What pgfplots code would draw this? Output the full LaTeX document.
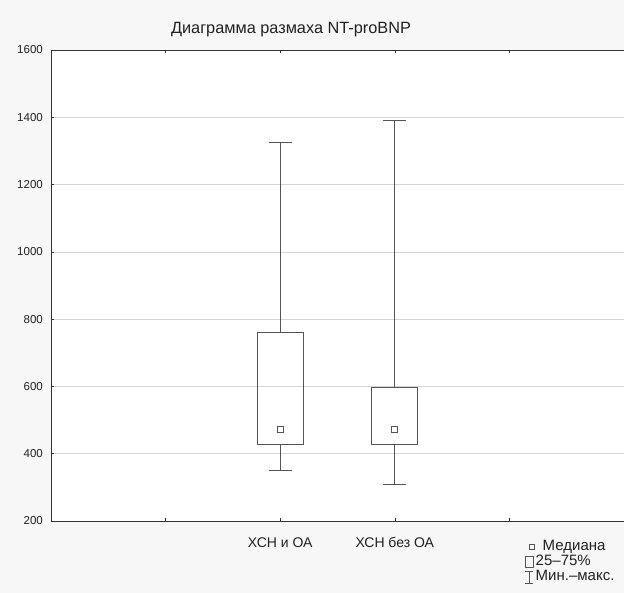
\documentclass[border=0pt]{standalone}
\usepackage{fontspec}
\setmainfont{Liberation Sans}
\usepackage{pgfplots}
\pgfplotsset{compat=1.18}
\definecolor{boxc}{HTML}{555555}
\definecolor{gridc}{HTML}{D4D4D4}
\definecolor{axiscol}{HTML}{333333}
\definecolor{bgc}{HTML}{F7F7F7}
\definecolor{txt}{HTML}{222222}
\begin{document}
\begin{tikzpicture}
\fill[bgc] (-51pt,-72pt) rectangle (573pt,521pt);
\begin{axis}[
  at={(0pt,0pt)}, anchor=south west,
  scale only axis, width=573pt, height=471pt,
  axis background/.style={fill=white},
  xmin=0, xmax=5, ymin=200, ymax=1600,
  xtick={1,2,3,4}, xticklabels={,ХСН и ОА,ХСН без ОА,},
  ytick={200,400,...,1600},
  ymajorgrids, grid style={gridc, line width=0.7pt},
  axis x line=box, axis y line=left,
  axis line style={-, axiscol, line width=0.9pt},
  tick align=inside, major tick length=3pt,
  tick style={axiscol, line width=0.6pt},
  /pgf/number format/assume math mode=true,
  /pgf/number format/1000 sep={},
  yticklabel style={font=\fontsize{11.5}{13}\selectfont, anchor=east, inner sep=0pt, xshift=-8pt, text=txt},
  xticklabel style={font=\fontsize{14}{16}\selectfont, anchor=base, inner sep=0pt, yshift=-27pt, text=txt},
  unbounded coords=jump,
  legend style={at={(0.8264,-0.0414)}, anchor=north west, draw=none, fill=none,
    font=\fontsize{15}{17}\selectfont, row sep=2pt, column sep=0pt, inner sep=0pt,
    nodes={inner ysep=0pt, inner xsep=1pt, text=txt, text height=10pt, text depth=3pt}},
  legend cell align=left,
]
% ХСН и ОА: min 350, Q1 428, median 471, Q3 761, max 1325
\addplot[forget plot, boxc, line width=0.8pt, mark=none] coordinates {
  (1.9,350) (2.1,350) (nan,nan)
  (2,350) (2,428) (nan,nan)
  (2,761) (2,1325) (nan,nan)
  (1.9,1325) (2.1,1325)};
\addplot[forget plot, boxc, line width=0.8pt, mark=none, line join=miter] coordinates {
  (1.8,428) (2.2,428) (2.2,761) (1.8,761) (1.8,428) (2.2,428)};
% ХСН без ОА: min 309, Q1 428, median 471, Q3 598, max 1390
\addplot[forget plot, boxc, line width=0.8pt, mark=none] coordinates {
  (2.9,309) (3.1,309) (nan,nan)
  (3,309) (3,428) (nan,nan)
  (3,598) (3,1390) (nan,nan)
  (2.9,1390) (3.1,1390)};
\addplot[forget plot, boxc, line width=0.8pt, mark=none, line join=miter] coordinates {
  (2.8,428) (3.2,428) (3.2,598) (2.8,598) (2.8,428) (3.2,428)};
% medians
\addplot[forget plot, only marks, mark=square, mark size=3pt, boxc,
  mark options={solid, line width=0.8pt}] coordinates {(2,471) (3,471)};

\addlegendimage{legend image code/.code={\path[draw=none, fill=none] (0pt,-6pt) rectangle (10pt,6pt);\draw[boxc, line width=0.6pt, fill=none] (4.5pt,-2.5pt) rectangle (9.5pt,2.5pt);}}
\addlegendentry{\hspace{7pt}Медиана}
\addlegendimage{legend image code/.code={\path[draw=none, fill=none] (0pt,-6pt) rectangle (10pt,6pt);\draw[boxc, line width=0.6pt, fill=none] (0.5pt,-5.5pt) rectangle (8.5pt,5.5pt);}}
\addlegendentry{25–75\%}
\addlegendimage{legend image code/.code={\path[draw=none, fill=none] (0pt,-6pt) rectangle (10pt,6pt);\draw[boxc, line width=0.6pt] (0.5pt,-6pt) -- (8.5pt,-6pt) (4.5pt,-6pt) -- (4.5pt,6pt) (0.5pt,6pt) -- (8.5pt,6pt);}}
\addlegendentry{Мин.–макс.}
\end{axis}
\node[anchor=base, font=\fontsize{16.3}{19}\selectfont, text=txt, inner sep=0pt] at (240pt,487pt) {Диаграмма размаха NT-proBNP};
\pgfresetboundingbox
\useasboundingbox (-51pt,-72pt) rectangle (573pt,521pt);
\end{tikzpicture}
\end{document}
